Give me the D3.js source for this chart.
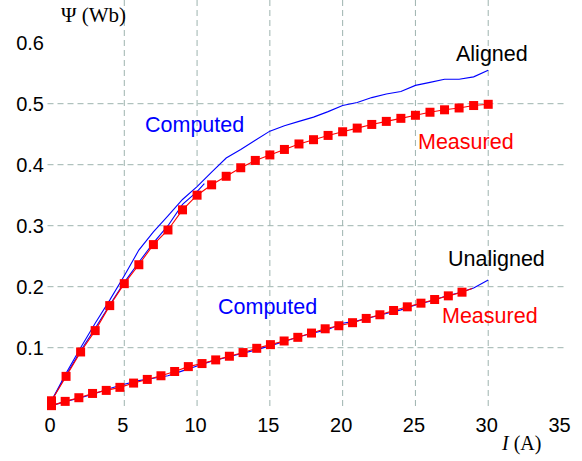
<!DOCTYPE html>
<html>
<head>
<meta charset="utf-8">
<script src="https://cdn.jsdelivr.net/npm/d3@7"></script>
<style>
  body { margin: 0; background: #fff; }
  svg { font-family: "Liberation Sans", Arial, sans-serif; }
</style>
</head>
<body>
<svg id="chart" width="582" height="461"></svg>
<script>
// aligned position, measured at 0..30 A
var alignedI = [0,1,2,3,4,5,6,7,8,9,10,11,12,13,14,15,16,17,18,19,20,21,22,23,24,25,26,27,28,29,30]
var alignedMeasured = [0.013,0.053,0.093,0.128,0.169,0.205,0.236,0.269,0.293,0.326,0.350,0.367,0.381,0.395,0.407,0.416,0.425,0.434,0.441,0.448,0.454,0.460,0.466,0.471,0.476,0.481,0.486,0.490,0.493,0.497,0.499]
var alignedComputed = [0.013,0.058,0.100,0.140,0.178,0.218,0.260,0.290,0.316,0.343,0.364,0.388,0.411,0.425,0.440,0.455,0.464,0.471,0.478,0.487,0.497,0.502,0.510,0.516,0.520,0.530,0.535,0.540,0.540,0.544,0.555]
// second computed branch, follows the measured one up to ~10 A
var alignedI2 = [0,1,2,3,4,5,6,7,8,9,10,10.5]
var alignedComputed2 = [0.013,0.055,0.095,0.132,0.170,0.207,0.240,0.272,0.300,0.335,0.356,0.369]

// unaligned position (last measured point has no marker)
var unalignedIm = [0,0.94,1.88,2.82,3.76,4.7,5.64,6.58,7.52,8.46,9.4,10.34,11.28,12.22,13.16,14.1,15.04,15.98,16.92,17.86,18.8,19.74,20.68,21.62,22.56,23.5,24.44,25.38,26.32,27.26,28.2,28.9]
var unalignedMeasured = [0.005,0.012,0.018,0.025,0.030,0.035,0.042,0.048,0.054,0.061,0.069,0.074,0.080,0.086,0.092,0.099,0.105,0.111,0.117,0.124,0.131,0.136,0.141,0.148,0.154,0.161,0.167,0.173,0.179,0.185,0.191,0.197]
var unalignedIc = [0,1,2,3,4,5,6,7,8,9,10,11,12,13,14,15,16,17,18,19,20,21,22,23,24,25,26,27,28,29,30]
var unalignedComputed = [0.005,0.012,0.018,0.025,0.033,0.040,0.046,0.050,0.054,0.062,0.070,0.078,0.084,0.090,0.096,0.103,0.110,0.118,0.124,0.130,0.140,0.144,0.150,0.156,0.162,0.170,0.176,0.184,0.190,0.198,0.211]

var xTicks = [0,5,10,15,20,25,30,35]
var yTicks = [0.1,0.2,0.3,0.4,0.5,0.6]

var svg = d3.select('#chart')
var blue = '#0000ff', red = '#ff0000'
var serif = '"Liberation Serif", "Times New Roman", serif'

var x = d3.scaleLinear().domain([0, 35]).range([51.5, 561])
var y = d3.scaleLinear().domain([0, 0.6]).range([408.7, 42.7])

var left = x(0), right = x(35.2), top = y(0.608), bottom = y(0)

// grid
var grid = svg.append('g')
  .attr('stroke', '#9db3ae')
  .attr('stroke-width', 1)
  .attr('stroke-dasharray', '6,4')
grid.selectAll('line.v')
  .data(xTicks.filter(d => d > 0 && d < 35))
  .enter().append('line')
  .attr('x1', d => x(d)).attr('x2', d => x(d))
  .attr('y1', top).attr('y2', bottom)
grid.selectAll('line.h')
  .data(yTicks.filter(d => d < 0.6))
  .enter().append('line')
  .attr('x1', left - 4).attr('x2', right)
  .attr('y1', d => y(d)).attr('y2', d => y(d))

// frame
svg.append('rect')
  .attr('x', left).attr('y', top)
  .attr('width', right - left).attr('height', bottom - top)
  .attr('fill', 'none').attr('stroke', '#333').attr('stroke-width', 1)
svg.append('path')
  .attr('d', `M${left},${top}V${bottom}H${right}`)
  .attr('fill', 'none').attr('stroke', '#111').attr('stroke-width', 1.4)

// tick labels
svg.append('g').selectAll('text')
  .data(xTicks).enter().append('text')
  .attr('x', d => x(d) - 1.5)
  .attr('y', 432)
  .attr('text-anchor', 'middle')
  .attr('font-size', '20px')
  .text(d => d)
svg.append('g').selectAll('text')
  .data(yTicks).enter().append('text')
  .attr('x', 44)
  .attr('y', d => y(d) + 7)
  .attr('text-anchor', 'end')
  .attr('font-size', '20px')
  .text(d => d3.format('.1f')(d))

// axis titles
svg.append('text')
  .attr('x', 61).attr('y', 22)
  .style('font-family', serif)
  .attr('font-size', '21px')
  .text('Ψ (Wb)')
var xt = svg.append('text')
  .attr('x', 502).attr('y', 450)
  .style('font-family', serif)
  .attr('font-size', '20px')
xt.append('tspan').attr('font-style', 'italic').text('I')
xt.append('tspan').text(' (A)')

var line = d3.line().x(d => x(d[0])).y(d => y(d[1]))
function zip(a, b) { return a.map((v, i) => [v, b[i]]) }

function drawLine(pts, color) {
  svg.append('path')
    .attr('d', line(pts))
    .attr('fill', 'none')
    .attr('stroke', color)
    .attr('stroke-width', 1.1)
}
function drawSquares(pts) {
  svg.append('g').selectAll('rect')
    .data(pts).enter().append('rect')
    .attr('x', d => x(d[0]) - 4.5)
    .attr('y', d => y(d[1]) - 4.5)
    .attr('width', 9).attr('height', 9)
    .attr('fill', red)
}

drawLine(zip(alignedI, alignedComputed), blue)
drawLine(zip(alignedI2, alignedComputed2), blue)
drawLine(zip(unalignedIc, unalignedComputed), blue)
drawLine(zip(alignedI, alignedMeasured), red)
drawLine(zip(unalignedIm, unalignedMeasured), red)
drawSquares(zip(alignedI, alignedMeasured))
drawSquares(zip(unalignedIm, unalignedMeasured).slice(0, 31))

// curve labels
var labels = [
  ['Aligned', 456, 61, '#000'],
  ['Computed', 145, 132, blue],
  ['Measured', 418, 149, red],
  ['Unaligned', 448, 266, '#000'],
  ['Computed', 218, 314, blue],
  ['Measured', 442, 323, red]
]
svg.append('g').selectAll('text')
  .data(labels).enter().append('text')
  .attr('x', d => d[1]).attr('y', d => d[2])
  .attr('fill', d => d[3])
  .attr('font-size', '21.5px')
  .text(d => d[0])
</script>
</body>
</html>
